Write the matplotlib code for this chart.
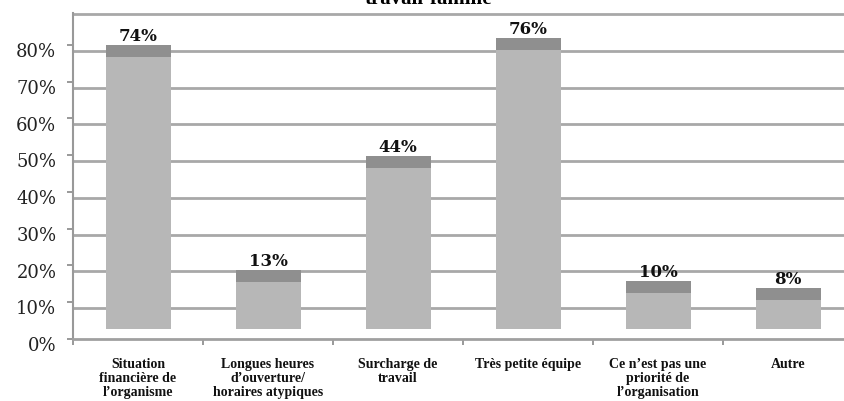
import matplotlib.pyplot as plt
import matplotlib.transforms as mtransforms
import numpy as np

categories = ["Situation\nfinancière de\nl’organisme",
              "Longues heures\nd’ouverture/\nhoraires atypiques",
              "Surcharge de\ntravail",
              "Très petite équipe",
              "Ce n’est pas une\npriorité de\nl’organisation",
              "Autre"]
values = [74, 13, 44, 76, 10, 8]
yticks = [0, 10, 20, 30, 40, 50, 60, 70, 80]
title = "travail-famille"

# fake 3D look: floor offset, top face depth, back-wall shift of gridlines
floor = 2.6
depth = 3.3
wall = 1.6

fig = plt.figure(figsize=(8.45, 4.02), dpi=100)
ax = fig.add_axes([73 / 845, 62 / 402, 780 / 845, 326.5 / 402])

x = np.arange(len(values))
ax.set_xlim(-0.5, len(values) - 0.5)
ax.set_ylim(0, 88.8)

for v in yticks[1:] + [90]:
    ax.axhline(v - wall, color='#a8a8a8', lw=2, zorder=0)

ax.bar(x, values, width=0.5, bottom=floor, color='#b7b7b7', zorder=2)
ax.bar(x, depth, width=0.5, bottom=np.array(values) + floor, color='#8f8f8f', zorder=2)

for xi, v in zip(x, values):
    ax.text(xi, v + floor + depth + 0.2, f"{v}%", ha='center', va='bottom',
            family='DejaVu Serif', fontweight='bold', fontsize=12, color='#111111')

for s in ['top', 'right']:
    ax.spines[s].set_visible(False)
ax.spines['left'].set_color('#999999')
ax.spines['left'].set_linewidth(1.5)
ax.spines['bottom'].set_color('#a0a0a0')
ax.spines['bottom'].set_linewidth(2)

ax.set_yticks(yticks)
ax.set_yticklabels([f"{v}%" for v in yticks], family='DejaVu Serif', fontsize=13, color='#222222')
ax.tick_params(axis='y', length=4, color='#888888', width=1.2, pad=8)
offset = mtransforms.ScaledTranslation(0, -3 / 72, fig.dpi_scale_trans)
for lab in ax.get_yticklabels():
    lab.set_transform(lab.get_transform() + offset)

ax.set_xticks(np.arange(len(values) + 1) - 0.5)
ax.set_xticklabels([])
ax.tick_params(axis='x', which='major', length=4, color='#888888', width=1.2)
ax.set_xticks(x, minor=True)
ax.set_xticklabels(categories, minor=True, family='Liberation Serif', fontweight='bold',
                   fontsize=10, linespacing=1.1, color='#111111')
ax.tick_params(axis='x', which='minor', length=0, pad=13)

fig.text(428 / 845, 1 - 4 / 402, title, ha='center', va='baseline',
         family='Liberation Serif', fontweight='bold', fontsize=15)

fig.savefig("out.png", dpi=100)
